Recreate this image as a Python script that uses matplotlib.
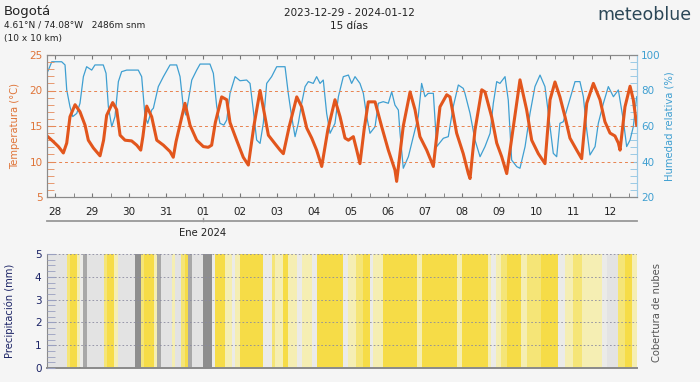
import matplotlib
matplotlib.use("Agg")
import matplotlib.pyplot as plt
from matplotlib.ticker import MultipleLocator, FixedLocator
import numpy as np

# time axis: hours since 2023-12-28 00:00 local time
X_RANGE = (-5.2, 377.5)

TEMP_HOURS = [
    -5.2, -1.1, 2.2, 5.4, 7.6, 9.7, 13.0, 16.2, 19.5, 21.6, 24.9, 29.2, 31.5, 33.5,
    37.4, 40.0, 42.2, 45.4, 49.7, 53.0, 55.6, 57.0, 59.5, 62.7, 66.0, 70.3, 74.6,
    76.7, 78.5, 84.3, 87.6, 91.9, 96.2, 99.4, 101.6, 104.0, 108.1, 111.4, 113.5,
    117.8, 122.1, 125.4, 129.0, 133.0, 136.2, 138.4, 142.7, 146.0, 148.1, 152.0,
    156.8, 160.0, 163.3, 166.5, 169.7, 173.0, 177.0, 181.6, 184.9, 188.1, 190.3,
    193.5, 195.7, 197.8, 200.5, 203.2, 207.6, 211.9, 216.2, 220.5, 221.6, 225.9,
    230.3, 233.5, 236.7, 241.1, 245.4, 249.7, 254.1, 256.2, 260.5, 264.8, 268.1,
    269.2, 272.4, 276.8, 278.9, 283.2, 286.5, 289.7, 293.0, 297.3, 301.6, 305.9,
    309.2, 313.5, 317.8, 321.1, 324.3, 327.5, 330.8, 334.0, 338.4, 341.6, 344.9,
    349.2, 353.5, 356.7, 360.0, 363.2, 365.4, 366.5, 369.7, 373.0, 375.1, 377.3,
]
TEMP_C = [
    13.6, 12.8, 12.1, 11.2, 12.6, 16.3, 18.0, 17.0, 15.1, 13.0, 11.9, 10.8, 13.0, 16.5,
    18.3, 17.3, 13.7, 13.0, 12.9, 12.3, 11.6, 13.5, 17.8, 16.3, 13.0, 12.3, 11.4,
    10.6, 12.8, 18.2, 15.1, 13.0, 12.1, 12.0, 12.3, 15.5, 19.1, 18.7, 15.5,
    13.0, 10.6, 9.5, 15.0, 20.0, 16.3, 13.7, 12.5, 11.6, 11.1, 15.0,
    19.1, 17.7, 14.7, 13.3, 11.6, 9.3, 14.5, 18.7, 16.3, 13.3, 13.0,
    13.5, 11.6, 9.7, 14.5, 18.4, 18.4, 14.9, 11.6, 8.8, 7.2, 15.0,
    19.8, 17.3, 13.5, 11.6, 9.3, 17.7, 19.4, 19.1, 14.0, 11.1, 8.3,
    7.6, 14.4, 20.1, 19.8, 16.3, 12.6, 10.7, 8.3, 14.9, 21.5, 17.3,
    13.0, 11.1, 9.7, 18.7, 21.2, 19.1, 16.3, 13.3, 11.6, 10.4, 18.2,
    21.0, 18.7, 15.6, 14.0, 13.6, 12.6, 11.6, 17.7, 20.6, 18.7, 15.1,
]

HUM_HOURS = [
    -5.2, -4.3, -2.1, 4.3, 6.5, 7.6, 9.7, 11.5, 14.1, 16.2, 18.4, 20.5, 23.8, 25.9,
    31.3, 33.1, 34.6, 36.8, 38.9, 41.1, 43.2, 46.5, 54.0, 56.2, 58.4, 60.1, 62.7,
    63.8, 67.0, 70.3, 74.6, 78.9, 81.1, 83.2, 84.8, 86.5, 88.7, 91.9, 94.1, 100.5,
    102.7, 104.9, 107.0, 109.5, 111.4, 113.5, 116.8, 120.0, 124.3, 126.5, 128.6,
    130.8, 133.0, 135.1, 137.3, 140.5, 143.8, 149.2, 151.3, 153.5, 155.7, 157.8,
    160.0, 162.2, 164.3, 167.5, 169.7, 171.9, 174.0, 176.2, 178.4, 181.6, 183.8,
    187.0, 190.3, 192.4, 194.6, 197.8, 200.0, 202.2, 204.3, 207.6, 209.7, 212.9,
    216.2, 218.4, 220.5, 222.7, 223.8, 225.9, 229.2, 232.4, 235.6, 237.8, 240.0,
    242.1, 245.4, 247.6, 251.9, 255.1, 258.3, 261.6, 264.8, 265.9, 269.2, 272.4,
    275.7, 278.9, 282.2, 284.3, 286.5, 288.6, 291.9, 294.0, 296.2, 299.5, 301.6,
    304.9, 308.1, 311.3, 314.6, 317.8, 321.1, 323.2, 325.4, 327.5, 329.7, 331.9,
    335.1, 337.3, 340.5, 342.7, 344.9, 347.0, 350.3, 352.4, 355.7, 358.9, 362.2,
    365.4, 368.6, 370.8, 373.0, 375.1, 377.3,
]
HUM_PCT = [
    90.0, 91.5, 96.2, 96.2, 94.4, 80.3, 70.9, 65.3, 67.1, 72.8, 87.8, 93.4, 91.5, 94.4,
    94.4, 89.7, 70.9, 59.6, 65.3, 85.0, 90.6, 91.5, 91.5, 87.8, 65.3, 61.5, 69.0,
    70.0, 82.2, 87.8, 94.4, 94.4, 87.8, 70.9, 66.2, 74.6, 85.9, 91.5, 94.9, 94.9,
    89.7, 70.9, 61.5, 60.5, 63.4, 78.4, 87.8, 85.5, 85.9, 84.0, 69.0,
    52.1, 50.2, 61.5, 84.0, 87.8, 93.4, 93.4, 78.4, 65.3, 54.0, 61.5,
    72.8, 82.2, 85.0, 84.0, 87.8, 84.0, 85.9, 67.1, 55.9, 61.5, 76.5,
    87.8, 88.7, 84.0, 87.8, 84.0, 78.4, 65.3, 55.9, 59.6, 72.8, 73.7,
    72.8, 79.3, 71.8, 69.0, 55.9, 36.2, 42.7, 54.0, 65.3, 84.0, 76.5,
    78.4, 78.4, 48.4, 53.1, 54.0, 70.9, 83.1, 81.2, 78.4, 67.1, 52.1,
    42.7, 48.4, 55.9, 72.8, 85.0, 84.0, 87.8, 74.6, 40.8, 37.1, 36.2,
    48.4, 67.1, 82.2, 88.7, 82.2, 59.6, 44.6, 42.7, 61.5, 62.4, 69.0,
    78.4, 85.0, 85.0, 76.5, 57.7, 43.7, 48.4, 61.5, 72.8, 82.2, 76.5,
    80.3, 63.4, 48.4, 52.1, 59.6, 76.5,
]

DAY_HOURS = list(range(0, 361, 24))
DAY_LABELS = ["28", "29", "30", "31", "01", "02", "03", "04", "05", "06",
              "07", "08", "09", "10", "11", "12"]

# cloud cover stripes: hour boundaries and one class per segment
CLOUD_EDGES = [
    -6, 8, 10, 14, 16, 18, 21, 32, 34, 38, 41, 52, 56, 58, 64, 66, 69, 76, 78, 82,
    84, 86, 89, 96, 102, 104, 110, 115, 117, 120, 135, 141, 143, 148, 151, 157,
    160, 167, 170, 187, 190, 195, 200, 204, 206, 213, 235, 238, 261, 264, 281,
    283, 286, 289, 293, 302, 306, 315, 326, 331, 336, 342, 355, 358, 365, 370,
    374, 378,
]
CLOUD_CLASS = [
    "n", "y", "Y", "p", "w", "g", "n", "y", "Y", "p", "n", "G", "y", "Y", "p", "g",
    "n", "p", "n", "y", "Y", "g", "n", "G", "w", "Y", "p", "w", "p", "Y", "w", "y",
    "p", "Y", "p", "w", "p", "w", "Y", "w", "p", "y", "Y", "w", "p", "Y", "p",
    "Y", "p", "Y", "p", "w", "p", "y", "Y", "p", "y", "Y", "w", "p", "y", "p",
    "w", "n", "y", "Y", "p",
]
CLOUD_COLORS = {
    "n": "#e3e3e3", "w": "#ebebe8", "p": "#f5eeb3", "y": "#f5e577",
    "Y": "#f6dc47", "g": "#a8a8a8", "G": "#8e8e8e",
}

PRECIP_HOURS = [16]
PRECIP_MM = [0.06]

BG = "#f5f5f5"
ORANGE = "#e2561d"
ORANGE_TXT = "#df7438"
BLUE = "#3f9fd1"
NAVY = "#1c2466"

fig = plt.figure(figsize=(7.0, 3.82), dpi=100, facecolor=BG)
ax = fig.add_axes([47 / 700, 1 - 197 / 382, 590 / 700, 142 / 382])
ax2 = ax.twinx()
ax.set_zorder(ax2.get_zorder() + 1)
ax.patch.set_visible(False)
ax2.patch.set_facecolor(BG)

ax2.plot(HUM_HOURS, HUM_PCT, color=BLUE, lw=0.9)
ax.plot(TEMP_HOURS, TEMP_C, color=ORANGE, lw=2.2, solid_joinstyle="round")

ax.set_xlim(*X_RANGE)
ax.set_ylim(5, 25)
ax2.set_ylim(20, 100)

ax.yaxis.set_major_locator(MultipleLocator(5))
ax.yaxis.set_minor_locator(MultipleLocator(1))
ax2.yaxis.set_major_locator(MultipleLocator(20))
ax2.yaxis.set_minor_locator(MultipleLocator(4))
ax.xaxis.set_major_locator(FixedLocator(DAY_HOURS))
ax.xaxis.set_minor_locator(MultipleLocator(12))
ax.set_xticklabels(DAY_LABELS)

ax.tick_params(axis="y", which="both", direction="in", colors="#e58a5a",
               labelcolor=ORANGE_TXT, labelsize=7.5, length=5, pad=3)
ax2.tick_params(axis="y", which="both", direction="in", colors="#8cc3e3",
                labelcolor=BLUE, labelsize=7.5, length=5, pad=3)
ax.tick_params(axis="x", which="both", direction="in", top=True, colors="#777",
               labelcolor="#222", labelsize=7.5, length=3, pad=7)
ax.grid(axis="y", which="major", color="#e8834f", ls=(0, (3, 3)), lw=0.7)

for a in (ax, ax2):
    for side in ("top", "bottom", "left"):
        a.spines[side].set_color("#8a8a8a")
    a.spines["right"].set_color("#9ccbe6")

fig.text(15 / 700, 1 - 126 / 382, "Temperatura (°C)", rotation=90, ha="center",
         va="center", color=ORANGE_TXT, fontsize=7.2)
fig.text(669 / 700, 1 - 126 / 382, "Humedad relativa (%)", rotation=90,
         ha="center", va="center", color=BLUE, fontsize=7.2)

# month axis below the day labels
xf = ax.get_xaxis_transform()
ax.plot(X_RANGE, [-0.169, -0.169], color="#999", lw=1.3, transform=xf, clip_on=False)
ax.plot([96, 96], [-0.169, -0.15], color="#999", lw=1.0, transform=xf, clip_on=False)
ax.text(96, -0.255, "Ene 2024", transform=xf, ha="center", va="center",
        fontsize=7.2, color="#222")

# precipitation / cloud cover panel
axb = fig.add_axes([47 / 700, 1 - 368 / 382, 590 / 700, 114 / 382])
axb.set_facecolor(BG)
edges = np.array(CLOUD_EDGES, dtype=float)
axb.bar(edges[:-1], 5, width=np.diff(edges), align="edge",
        color=[CLOUD_COLORS[c] for c in CLOUD_CLASS], linewidth=0)
axb.bar(PRECIP_HOURS, PRECIP_MM, width=1.2, color="black", linewidth=0)
axb.set_xlim(*X_RANGE)
axb.set_ylim(0, 5)
axb.set_xticks([])
axb.yaxis.set_major_locator(MultipleLocator(1))
axb.yaxis.set_minor_locator(MultipleLocator(0.25))
axb.tick_params(axis="y", which="both", direction="in", colors="#9aa0c0",
                labelcolor=NAVY, labelsize=7.5, length=6, pad=4)
axb.set_axisbelow(False)
axb.grid(axis="y", color="#8a8aa0", ls=(0, (2, 2.5)), lw=0.6)
axb.spines["top"].set_visible(False)
axb.spines["right"].set_visible(False)
axb.spines["left"].set_color("#8a8a8a")
axb.spines["bottom"].set_color("#8a8a8a")
axb.spines["bottom"].set_linewidth(1.4)

fig.text(10 / 700, 1 - 311 / 382, "Precipitación (mm)", rotation=90, ha="center",
         va="center", color=NAVY, fontsize=7.2)
fig.text(657 / 700, 1 - 312 / 382, "Cobertura de nubes", rotation=90, ha="center",
         va="center", color="#555", fontsize=7.2)

# header
fig.text(4 / 700, 1 - 12 / 382, "Bogotá", ha="left", va="center", fontsize=9.5,
         color="#222")
fig.text(4 / 700, 1 - 25 / 382, "4.61°N / 74.08°W   2486m snm", ha="left",
         va="center", fontsize=6.5, color="#222")
fig.text(4 / 700, 1 - 38.5 / 382, "(10 x 10 km)", ha="left", va="center",
         fontsize=6.5, color="#222")
fig.text(349 / 700, 1 - 12.5 / 382, "2023-12-29 - 2024-01-12", ha="center",
         va="center", fontsize=7.5, color="#222")
fig.text(349 / 700, 1 - 26 / 382, "15 días", ha="center", va="center",
         fontsize=7.5, color="#222")
fig.text(644 / 700, 1 - 15 / 382, "meteoblue", ha="center", va="center",
         fontsize=12.5, color="#2b4757")

fig.savefig("out.png", dpi=100, facecolor=BG)
